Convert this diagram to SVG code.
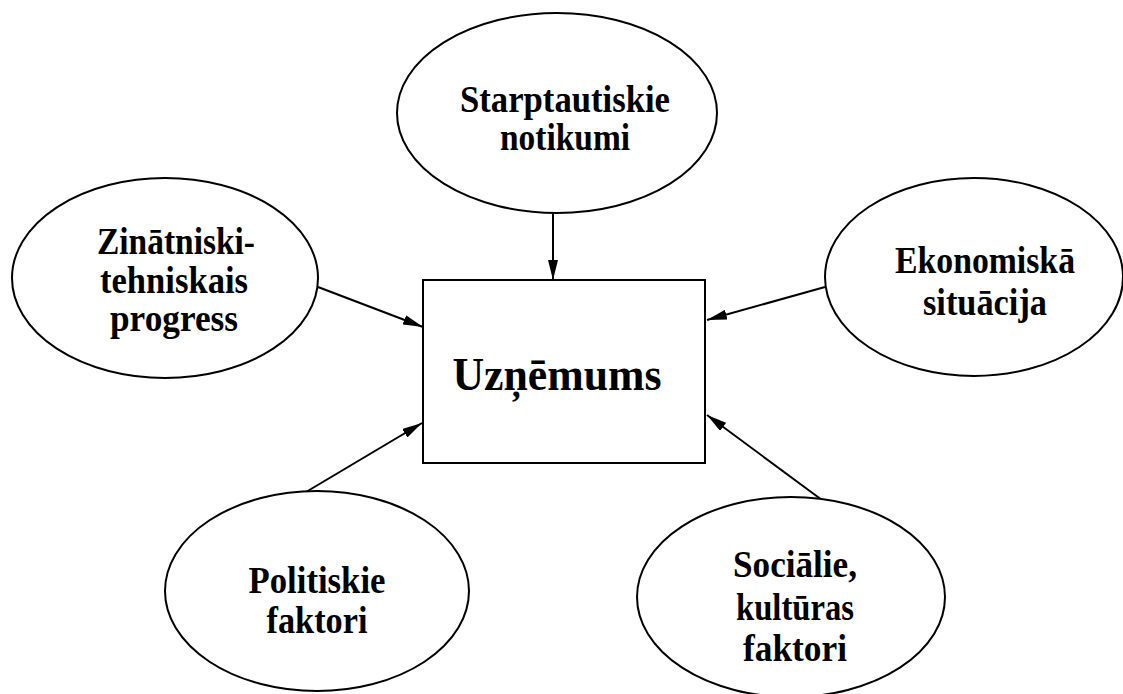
<svg xmlns="http://www.w3.org/2000/svg" width="1123" height="694" viewBox="0 0 1123 694">
<style>
.shape{fill:#fff;stroke:#000;stroke-width:2}
.lbl{font-family:"Liberation Serif","Times New Roman",serif;font-weight:bold;font-size:38px;fill:#000;text-anchor:middle}
.main{font-size:46px}
.conn{stroke:#000;stroke-width:2;fill:none;marker-end:url(#ah)}
</style>
<defs>
<marker id="ah" markerUnits="userSpaceOnUse" markerWidth="20" markerHeight="10" refX="20" refY="5" orient="auto">
<path d="M0,0 L20,5 L0,10 z" fill="#000"/>
</marker>
</defs>
<rect width="1123" height="694" fill="#fff"/>
<g id="connectors">
<line class="conn" x1="553" y1="213" x2="553" y2="280"/>
<line class="conn" x1="318" y1="287" x2="423" y2="327"/>
<line class="conn" x1="825" y1="287" x2="707" y2="320"/>
<line class="conn" x1="306" y1="492" x2="422" y2="423"/>
<line class="conn" x1="822" y1="500" x2="707" y2="415"/>
</g>
<g id="uznemums">
<rect class="shape" x="423" y="280" width="282" height="183"/>
<text class="lbl main" x="557" y="390" textLength="209" lengthAdjust="spacingAndGlyphs">Uzņēmums</text>
</g>
<g id="starptautiskie">
<ellipse class="shape" cx="557" cy="113" rx="160" ry="100"/>
<text class="lbl" x="565" y="112" textLength="210" lengthAdjust="spacingAndGlyphs">Starptautiskie</text>
<text class="lbl" x="565" y="150" textLength="130" lengthAdjust="spacingAndGlyphs">notikumi</text>
</g>
<g id="zinatniski">
<ellipse class="shape" cx="165" cy="278" rx="153" ry="100"/>
<text class="lbl" x="176" y="254" textLength="158" lengthAdjust="spacingAndGlyphs">Zinātniski-</text>
<text class="lbl" x="174" y="293" textLength="148" lengthAdjust="spacingAndGlyphs">tehniskais</text>
<text class="lbl" x="174" y="331" textLength="128" lengthAdjust="spacingAndGlyphs">progress</text>
</g>
<g id="ekonomiska">
<ellipse class="shape" cx="974" cy="277" rx="149" ry="99"/>
<text class="lbl" x="985" y="273" textLength="180" lengthAdjust="spacingAndGlyphs">Ekonomiskā</text>
<text class="lbl" x="985" y="315" textLength="124" lengthAdjust="spacingAndGlyphs">situācija</text>
</g>
<g id="politiskie">
<ellipse class="shape" cx="317" cy="591" rx="152" ry="100"/>
<text class="lbl" x="317" y="593" textLength="137" lengthAdjust="spacingAndGlyphs">Politiskie</text>
<text class="lbl" x="317" y="633" textLength="101" lengthAdjust="spacingAndGlyphs">faktori</text>
</g>
<g id="socialie">
<ellipse class="shape" cx="791" cy="597" rx="154" ry="100"/>
<text class="lbl" x="795" y="577" textLength="124" lengthAdjust="spacingAndGlyphs">Sociālie,</text>
<text class="lbl" x="795" y="620" textLength="118" lengthAdjust="spacingAndGlyphs">kultūras</text>
<text class="lbl" x="795" y="661" textLength="104" lengthAdjust="spacingAndGlyphs">faktori</text>
</g>
</svg>
